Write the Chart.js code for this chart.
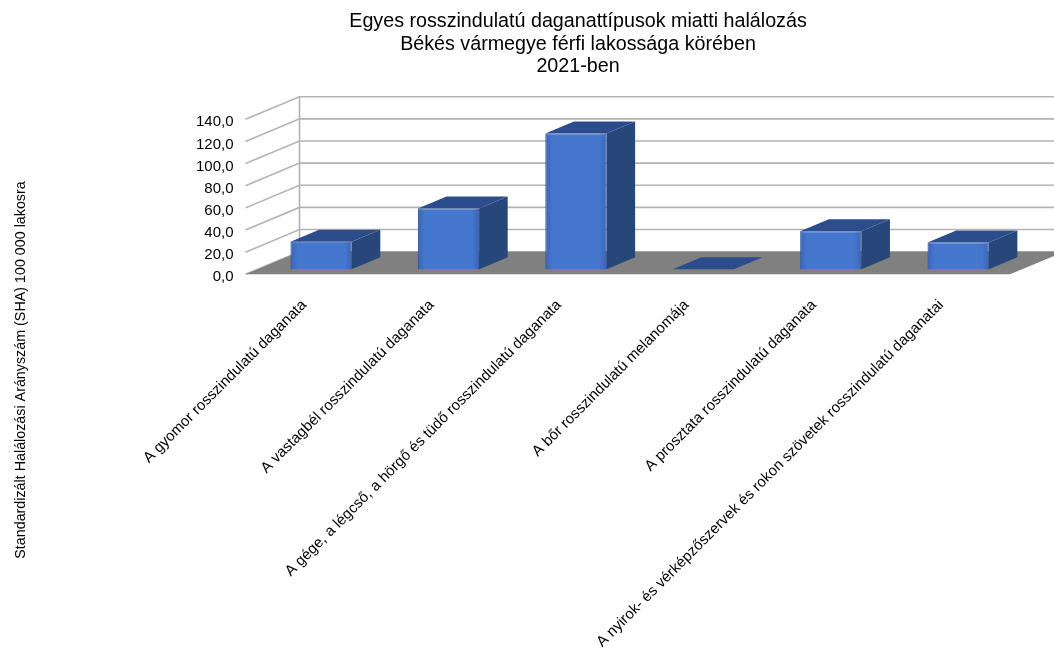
<!DOCTYPE html>
<html>
<head>
<meta charset="utf-8">
<script src="https://cdn.jsdelivr.net/npm/chart.js@4.4.1/dist/chart.umd.min.js"></script>
<style>
html,body{margin:0;padding:0;background:#ffffff;}
#wrap{width:1054px;height:653px;position:relative;}
</style>
</head>
<body>
<div id="wrap"><canvas id="c" width="1054" height="653"></canvas></div>
<script>
// ---- data ----
const titleLines = [
  "Egyes rosszindulatú daganattípusok miatti halálozás",
  "Békés vármegye férfi lakossága körében",
  "2021-ben"
];
const yAxisTitle = "Standardizált Halálozási Arányszám (SHA) 100 000 lakosra";
const categories = [
  "A gyomor rosszindulatú daganata",
  "A vastagbél rosszindulatú daganata",
  "A gége, a légcső, a hörgő és tüdő rosszindulatú daganata",
  "A bőr rosszindulatú melanomája",
  "A prosztata rosszindulatú daganata",
  "A nyirok- és vérképzőszervek és rokon szövetek rosszindulatú daganatai"
];
const values = [25.0, 55.0, 122.8, 0, 34.5, 24.3];
const yTicks = [0, 20, 40, 60, 80, 100, 120, 140];

// ---- styling / 3D geometry ----
const FONT = "'Liberation Sans', Arial, sans-serif";
const DX = 54, DY = -22.6;          // depth vector of the 3D box
const BAR_FRONT = 0.22, BAR_DEPTH = 0.53;
const FRONT_COLOR = '#4677cf', TOP_COLOR = '#2c4c8c', SIDE_COLOR = '#274679';
const GRID_COLOR = '#b3b3b3', FLOOR_COLOR = '#808080';

const depth3d = {
  id: 'depth3d',
  beforeDatasetsDraw(chart) {
    const {ctx, chartArea: ca, scales: {x, y}} = chart;
    const y0 = y.getPixelForValue(0);
    const yTop = y.getPixelForValue(y.max);
    ctx.save();
    ctx.strokeStyle = GRID_COLOR;
    ctx.lineWidth = 1.6;
    y.ticks.forEach(t => {
      const py = y.getPixelForValue(t.value);
      ctx.beginPath();
      ctx.moveTo(ca.left, py);
      ctx.lineTo(ca.left + DX, py + DY);
      ctx.lineTo(ca.right + DX, py + DY);
      ctx.stroke();
    });
    ctx.beginPath();
    ctx.moveTo(ca.left + DX, y0 + DY);
    ctx.lineTo(ca.left + DX, yTop + DY);
    ctx.stroke();
    // floor
    ctx.fillStyle = FLOOR_COLOR;
    ctx.beginPath();
    ctx.moveTo(ca.left, y0);
    ctx.lineTo(ca.right, y0);
    ctx.lineTo(ca.right + DX, y0 + DY);
    ctx.lineTo(ca.left + DX, y0 + DY);
    ctx.closePath();
    ctx.fill();
    ctx.restore();
    // front faces of bars are drawn by Chart.js, shifted into depth
    ctx.save();
    ctx.translate(DX * BAR_FRONT, DY * BAR_FRONT);
  },
  afterDatasetsDraw(chart) {
    const ctx = chart.ctx;
    ctx.restore();
    const ox = DX * BAR_FRONT, oy = DY * BAR_FRONT;
    const dx = DX * BAR_DEPTH, dy = DY * BAR_DEPTH;
    const meta = chart.getDatasetMeta(0);
    ctx.save();
    meta.data.forEach(bar => {
      const p = bar.getProps(['x', 'y', 'base', 'width'], true);
      const l = p.x - p.width / 2 + ox, r = p.x + p.width / 2 + ox;
      const t = Math.min(p.y, p.base) + oy, b = Math.max(p.y, p.base) + oy;
      if (b - t > 0.5) {
        // soft shading on the front face edges
        const g = ctx.createLinearGradient(l, 0, r, 0);
        g.addColorStop(0, 'rgba(20,40,90,0.22)');
        g.addColorStop(0.12, 'rgba(20,40,90,0)');
        g.addColorStop(0.88, 'rgba(20,40,90,0)');
        g.addColorStop(1, 'rgba(20,40,90,0.22)');
        ctx.fillStyle = g;
        ctx.fillRect(l, t, r - l, b - t);
        ctx.fillStyle = SIDE_COLOR;
        ctx.beginPath();
        ctx.moveTo(r, t); ctx.lineTo(r + dx, t + dy); ctx.lineTo(r + dx, b + dy); ctx.lineTo(r, b);
        ctx.closePath(); ctx.fill();
      }
      ctx.fillStyle = TOP_COLOR;
      ctx.beginPath();
      ctx.moveTo(l, t); ctx.lineTo(r, t); ctx.lineTo(r + dx, t + dy); ctx.lineTo(l + dx, t + dy);
      ctx.closePath(); ctx.fill();
    });
    ctx.restore();
  },
  afterDraw(chart) {
    const ctx = chart.ctx;
    ctx.save();
    ctx.translate(21, 370);
    ctx.rotate(-Math.PI / 2);
    ctx.fillStyle = '#000';
    ctx.font = "14.3px " + FONT;
    ctx.textAlign = 'center';
    ctx.textBaseline = 'middle';
    ctx.fillText(yAxisTitle, 0, 0);
    ctx.restore();
  }
};

new Chart(document.getElementById('c'), {
  type: 'bar',
  data: {
    labels: categories,
    datasets: [{
      data: values,
      backgroundColor: FRONT_COLOR,
      borderColor: '#3d69b9',
      borderWidth: 1,
      barPercentage: 0.48,
      categoryPercentage: 1
    }]
  },
  options: {
    responsive: false,
    animation: false,
    devicePixelRatio: 1,
    layout: {padding: {left: 146, right: 44, top: 0, bottom: 0}},
    plugins: {
      legend: {display: false},
      tooltip: {enabled: false},
      title: {
        display: true,
        text: titleLines,
        color: '#000',
        font: {family: FONT, size: 19.7, weight: 'normal', lineHeight: 1.127},
        padding: {top: 10.9, bottom: 41.8}
      }
    },
    scales: {
      x: {
        grid: {display: false, drawTicks: false},
        border: {display: false},
        ticks: {
          autoSkip: false, minRotation: 45, maxRotation: 45,
          padding: 22, labelOffset: -5, color: '#000',
          font: {family: FONT, size: 15}
        },
        afterFit(s) { s.height = 378.7; }
      },
      y: {
        min: 0, max: 140,
        grid: {display: false, drawTicks: false},
        border: {display: false},
        afterBuildTicks(s) { s.ticks = yTicks.map(v => ({value: v})); },
        ticks: {
          padding: 12, labelOffset: 3, color: '#000',
          font: {family: FONT, size: 15},
          callback: v => Number(v).toFixed(1).replace('.', ',')
        },
        afterFit(s) { s.width = 99.5; }
      }
    }
  },
  plugins: [depth3d]
});
</script>
</body>
</html>
